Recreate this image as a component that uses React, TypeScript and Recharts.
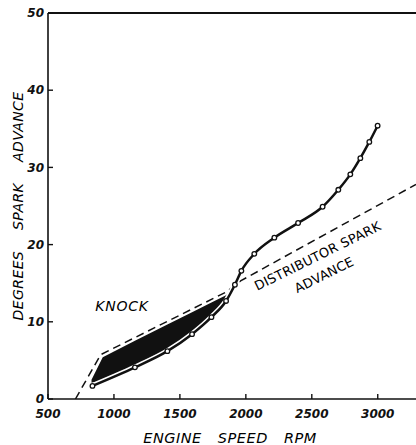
import React from 'react';
import { ComposedChart, Line, Area, XAxis, YAxis, ReferenceLine } from 'recharts';

// Measured spark advance curve (engine speed rpm, degrees)
const rpm = [837, 1159, 1405, 1592, 1739, 1850, 1917, 1966, 2064, 2216, 2396, 2582, 2701, 2792, 2868, 2936, 2999];
const advance = [1.7, 4.1, 6.2, 8.4, 10.6, 12.7, 14.8, 16.6, 18.8, 20.9, 22.8, 24.9, 27.1, 29.1, 31.2, 33.3, 35.4];

// Distributor spark advance (dashed)
const distributorRpm = [708, 900, 1850, 1960, 3290];
const distributorAdvance = [0, 5.75, 13.85, 15.3, 27.8];

// Knock region (black band)
const knockRpm = [830, 915, 1159, 1405, 1592, 1739, 1850, 1872];
const knockLow = [2.1, 2.4, 4.1, 6.2, 8.4, 10.6, 12.7, 13.4];
const knockHigh = [2.5, 5.4, 7.55, 9.65, 11.25, 12.5, 13.45, 13.75];

const xTicks = [500, 1000, 1500, 2000, 2500, 3000];
const yTicks = [0, 10, 20, 30, 40, 50];
const yMax = 50;

const font = "'DejaVu Sans', sans-serif";
const ink = '#111111';

export default function App() {
  const curveData = rpm.map((r, i) => ({ rpm: r, advance: advance[i] }));
  const distData = distributorRpm.map((r, i) => ({ rpm: r, dist: distributorAdvance[i] }));
  const knockData = knockRpm.map((r, i) => ({ rpm: r, knock: [knockLow[i], knockHigh[i]] }));
  const tickStyle = { fontSize: 12, fontStyle: 'italic', fontWeight: 'bold', fill: ink, fontFamily: font };
  return (
    <div style={{ position: 'absolute', left: 0, top: 0, width: 416, height: 445, background: '#fff' }}>
      <ComposedChart width={416} height={445} margin={{ top: 13, right: 0, bottom: 0, left: 0 }}>
        <XAxis
          type="number"
          dataKey="rpm"
          domain={[500, 3290]}
          allowDataOverflow
          ticks={xTicks}
          interval={0}
          height={46}
          tickSize={-5}
          tickMargin={15}
          axisLine={{ stroke: ink, strokeWidth: 1.6 }}
          tickLine={{ stroke: ink, strokeWidth: 1.4 }}
          tick={tickStyle}
        />
        <YAxis
          type="number"
          domain={[0, yMax]}
          allowDataOverflow
          ticks={yTicks}
          interval={0}
          width={48}
          tickSize={-5}
          tickMargin={9}
          axisLine={{ stroke: ink, strokeWidth: 1.6 }}
          tickLine={{ stroke: ink, strokeWidth: 1.4 }}
          tick={tickStyle}
        />
        <ReferenceLine y={yMax} ifOverflow="visible" stroke={ink} strokeWidth={2.2} />
        <Area
          data={knockData}
          dataKey="knock"
          type="linear"
          fill={ink}
          fillOpacity={1}
          stroke="none"
          isAnimationActive={false}
        />
        <Line
          data={distData}
          dataKey="dist"
          type="linear"
          stroke={ink}
          strokeWidth={1.5}
          strokeDasharray="8 5"
          dot={false}
          isAnimationActive={false}
        />
        <Line
          data={curveData}
          dataKey="advance"
          type="monotone"
          stroke="#fff"
          strokeWidth={5.5}
          dot={false}
          isAnimationActive={false}
        />
        <Line
          data={curveData}
          dataKey="advance"
          type="monotone"
          stroke={ink}
          strokeWidth={2.5}
          dot={{ r: 2.3, fill: '#fff', stroke: ink, strokeWidth: 1.3 }}
          isAnimationActive={false}
        />
        <text x={122} y={311} textAnchor="middle" fontSize={14} fontStyle="italic" letterSpacing={0.8} fill="#000" fontFamily={font}>
          KNOCK
        </text>
        <text
          x={317.5}
          y={256}
          textAnchor="middle"
          dominantBaseline="central"
          fontSize={13}
          textLength={139}
          lengthAdjust="spacing"
          fill="#000"
          fontFamily={font}
          transform="rotate(-26.3 317.5 256)"
        >
          DISTRIBUTOR SPARK
        </text>
        <text
          x={324}
          y={275}
          textAnchor="middle"
          dominantBaseline="central"
          fontSize={13}
          textLength={64}
          lengthAdjust="spacing"
          fill="#000"
          fontFamily={font}
          transform="rotate(-26.3 324 275)"
        >
          ADVANCE
        </text>
        <text
          transform="translate(23 206) rotate(-90)"
          textAnchor="middle"
          fontSize={14}
          fontStyle="italic"
          wordSpacing={16}
          letterSpacing={0.4}
          fill="#000"
          fontFamily={font}
        >
          DEGREES SPARK ADVANCE
        </text>
        <text
          x={230}
          y={443}
          textAnchor="middle"
          fontSize={14.5}
          fontStyle="italic"
          wordSpacing={11}
          letterSpacing={0.5}
          fill="#000"
          fontFamily={font}
        >
          ENGINE SPEED RPM
        </text>
      </ComposedChart>
    </div>
  );
}
